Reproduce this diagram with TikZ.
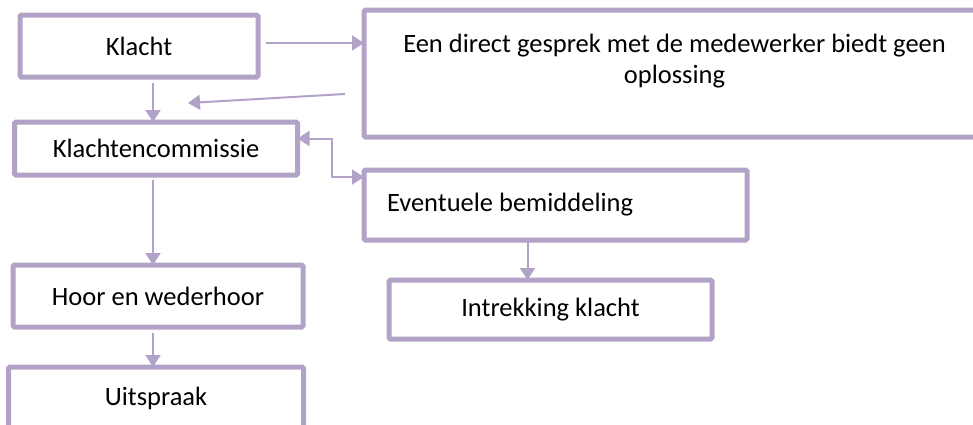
\documentclass[tikz,border=0pt]{standalone}
\usepackage{fontspec}
\setmainfont{Carlito}
\usetikzlibrary{positioning, arrows.meta}
\definecolor{FlowLilac}{HTML}{B3A2C7}

\begin{document}
\begin{tikzpicture}[x = 1pt, y = -1pt, node distance = 40pt]%
    %
    \tikzstyle{arrow} = [-{Triangle[length = 12pt, width = 15pt]}, draw = FlowLilac, line width = 2pt]%
    \tikzstyle{twoway} = [{Triangle[length = 12pt, width = 15pt]}-{Triangle[length = 12pt, width = 15pt]}, draw = FlowLilac, line width = 2pt]%
    \tikzstyle{block} = [rectangle, draw = FlowLilac, line width = 5pt, fill = white, text = black, font = {\fontsize{26.5}{31}\selectfont}, rounded corners = 1.5pt, inner sep = 4pt, outer sep = 0pt, align = center]%
    %
    \useasboundingbox (0, 0) rectangle (973, 424);%
    %
    \node [block, minimum width = 238pt, minimum height = 62pt] at (139, 46) (klacht) {Klacht};%
    \node [block, minimum width = 283pt, minimum height = 53pt, below = 45pt of klacht, xshift = 17pt] (commissie) {Klachtencommissie};%
    \node [block, minimum width = 290pt, minimum height = 62pt, below = 90pt of commissie, xshift = 2pt] (hoor) {Hoor en wederhoor};%
    \node [block, minimum width = 295pt, minimum height = 62pt, below = 40pt of hoor, xshift = -2pt] (uitspraak) {Uitspraak};%
    \node [block, minimum width = 621pt, text height = 69pt, text depth = 50pt] at (674.5, 73.5) (gesprek) {Een direct gesprek met de medewerker biedt geen\\oplossing};%
    \node [block, minimum width = 383pt, minimum height = 70pt, text width = 337pt, align = flush left, below = 33pt of gesprek.south west, anchor = north west] (bemiddeling) {Eventuele bemiddeling};%
    \node [block, minimum width = 323pt, minimum height = 59pt, below = 40pt of bemiddeling, xshift = -5pt] (intrekking) {Intrekking klacht};%
    %
    \coordinate [xshift = 8pt, yshift = 3pt] (klacht-out) at (klacht.east);%
    \path [arrow] (klacht-out) -- (klacht-out -| gesprek.west);%
    \coordinate [xshift = -19pt, yshift = -20.5pt] (gesprek-out) at (gesprek.west);%
    \coordinate [xshift = 32pt, yshift = 19pt] (commissie-in) at (commissie.north);%
    \path [arrow] (gesprek-out) -- (commissie-in);%
    %
    \coordinate [xshift = -3pt, yshift = -6pt] (klacht-down) at (klacht.south -| commissie.north);%
    \path [arrow] (klacht-down) -- (klacht-down |- commissie.north);%
    \coordinate [xshift = -3pt, yshift = -5pt] (commissie-down) at (commissie.south);%
    \path [arrow] (commissie-down) -- (commissie-down |- hoor.north);%
    \coordinate [xshift = -5pt, yshift = -6pt] (hoor-down) at (hoor.south);%
    \path [arrow] (hoor-down) -- (hoor-down |- uitspraak.north);%
    %
    \coordinate [yshift = 10pt] (commissie-right) at (commissie.east);%
    \coordinate [yshift = 28pt] (bemiddeling-left) at (bemiddeling.west);%
    \path [twoway] (commissie-right) -- ++(34pt, 0) |- (bemiddeling-left);%
    \coordinate [xshift = -28pt] (bemiddeling-down) at (bemiddeling.south);%
    \path [arrow] (bemiddeling-down) -- (bemiddeling-down |- intrekking.north);%
    %
\end{tikzpicture}
\end{document}
